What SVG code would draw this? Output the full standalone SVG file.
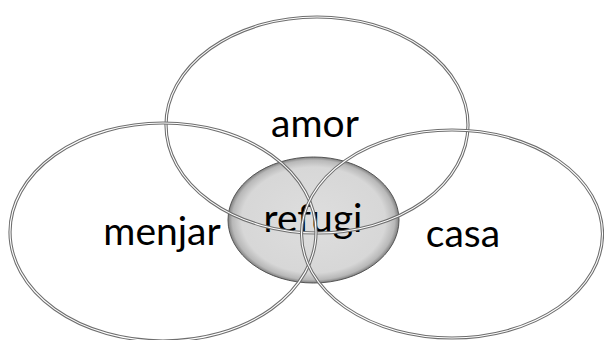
<svg xmlns="http://www.w3.org/2000/svg" width="604" height="340" viewBox="0 0 604 340">
  <defs>
    <radialGradient id="centerFill" cx="50%" cy="50%" r="50%">
      <stop offset="0%" stop-color="#dedede"/>
      <stop offset="84%" stop-color="#d7d7d7"/>
      <stop offset="95%" stop-color="#b8b8b8"/>
      <stop offset="100%" stop-color="#808080"/>
    </radialGradient>
  </defs>
  <style>
    .ring-outer { fill: none; stroke: #6e6e6e; stroke-width: 3.2; }
    .ring-inner { fill: none; stroke: #ffffff; stroke-width: 1.1; }
    .core { fill: url(#centerFill); stroke: #555555; stroke-width: 1; }
    .label { font-family: Lato, "Liberation Sans", sans-serif; font-size: 39px; fill: #000000; text-anchor: middle; }
  </style>
  <rect width="604" height="340" fill="#ffffff"/>
  <g id="refugi">
    <ellipse class="core" cx="313.5" cy="220" rx="85.5" ry="63"/>
    <text class="label" x="313" y="232">refugi</text>
  </g>
  <g id="amor">
    <ellipse class="ring-outer" cx="317" cy="125" rx="151" ry="108"/>
    <ellipse class="ring-inner" cx="317" cy="125" rx="151" ry="108"/>
    <text class="label" x="315" y="137">amor</text>
  </g>
  <g id="menjar">
    <ellipse class="ring-outer" cx="163" cy="232" rx="153" ry="109"/>
    <ellipse class="ring-inner" cx="163" cy="232" rx="153" ry="109"/>
    <text class="label" x="162" y="245">menjar</text>
  </g>
  <g id="casa">
    <ellipse class="ring-outer" cx="452" cy="234" rx="150.5" ry="104"/>
    <ellipse class="ring-inner" cx="452" cy="234" rx="150.5" ry="104"/>
    <text class="label" x="463" y="247">casa</text>
  </g>
  <g id="connectors"/>
</svg>
